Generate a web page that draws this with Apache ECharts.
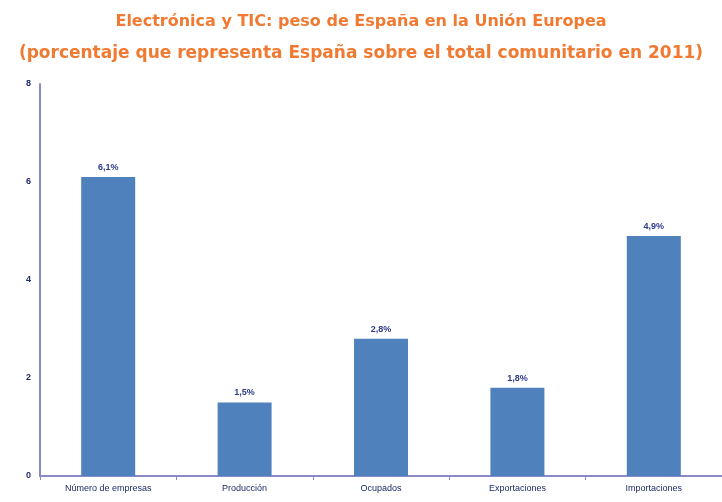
<!DOCTYPE html>
<html>
<head>
<meta charset="utf-8">
<script src="https://cdn.jsdelivr.net/npm/echarts@6/dist/echarts.min.js"></script>
<style>
  html, body { margin: 0; padding: 0; background: #fff; }
  #chart { width: 722px; height: 502px; }
</style>
</head>
<body>
<div id="chart"></div>
<script>
var categories = ['Número de empresas', 'Producción', 'Ocupados', 'Exportaciones', 'Importaciones'];
var values = [6.1, 1.5, 2.8, 1.8, 4.9];

var chart = echarts.init(document.getElementById('chart'));
var option;

option = {
  backgroundColor: '#ffffff',
  title: {
    text: '{a|Electrónica y TIC: peso de España en la Unión Europea}\n{b|(porcentaje que representa España sobre el total comunitario en 2011)}',
    left: 'center',
    top: 3,
    textStyle: {
      rich: {
        a: {
          fontFamily: 'DejaVu Sans',
          fontSize: 16,
          fontWeight: 'bold',
          color: '#f07a32',
          lineHeight: 28,
          align: 'center'
        },
        b: {
          fontFamily: 'DejaVu Sans',
          fontSize: 17,
          fontWeight: 'bold',
          color: '#f07a32',
          lineHeight: 36,
          align: 'center'
        }
      }
    }
  },
  grid: {
    left: 40,
    right: 0,
    top: 84,
    bottom: 26
  },
  xAxis: {
    type: 'category',
    data: categories,
    axisLine: { lineStyle: { color: '#8a8ac6', width: 2 } },
    axisTick: { show: true, length: 4, lineStyle: { color: '#8a8ac6' } },
    axisLabel: {
      fontFamily: 'Liberation Sans',
      fontSize: 9,
      color: '#1f2a6b',
      margin: 8,
      interval: 0
    }
  },
  yAxis: {
    type: 'value',
    min: 0,
    max: 8,
    interval: 2,
    splitLine: { show: false },
    axisLine: { show: true, lineStyle: { color: '#8a8ac6', width: 2 } },
    axisTick: { show: false },
    axisLabel: {
      fontFamily: 'Liberation Sans',
      fontSize: 9,
      fontWeight: 'bold',
      color: '#1f2a6b',
      margin: 9
    }
  },
  series: [
    {
      type: 'bar',
      data: values,
      barWidth: 54,
      itemStyle: { color: '#4f81bd' },
      label: {
        show: true,
        position: 'top',
        distance: 5,
        fontFamily: 'Liberation Sans',
        fontSize: 9,
        fontWeight: 'bold',
        color: '#2e3a8c',
        formatter: function (p) {
          return String(p.value).replace('.', ',') + '%';
        }
      }
    }
  ]
};

option && chart.setOption(option);
</script>
</body>
</html>
